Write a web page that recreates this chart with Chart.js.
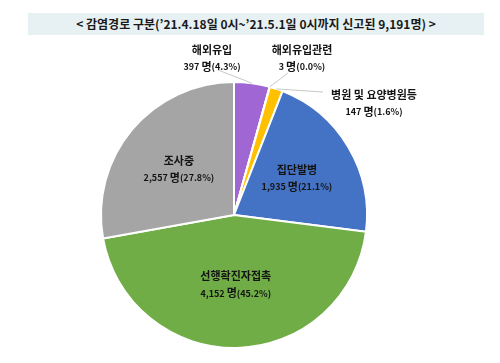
<!DOCTYPE html>
<html><head><meta charset="utf-8">
<script src="https://cdn.jsdelivr.net/npm/chart.js@4/dist/chart.umd.min.js"></script>
<style>
html,body{margin:0;padding:0;background:#fff;}
#wrap{position:relative;width:500px;height:363px;}
#title{position:absolute;left:28px;top:13px;width:456px;height:22px;background:#e7f1f3;
 font:bold 12px "Noto Sans CJK KR","Noto Sans",sans-serif;color:#1a1a1a;text-align:center;line-height:22px;white-space:nowrap;}
canvas{position:absolute;left:0;top:0;}
</style></head>
<body><div id="wrap"><canvas id="c" width="500" height="363"></canvas>
<div id="title">&lt; 감염경로 구분(’21.4.18일 0시~’21.5.1일 0시까지 신고된 9,191명) &gt;</div></div>
<script>
const categories = ['해외유입','해외유입관련','병원 및 요양병원등','집단발병','선행확진자접촉','조사중'];
const counts = [397, 3, 147, 1935, 4152, 2557];
const percents = ['4.3%','0.0%','1.6%','21.1%','45.2%','27.8%'];
const colors = ['#a066d3','#ed7d31','#ffc000','#4472c4','#70ad47','#a5a5a5'];

// label layout: inside labels use radial fraction; outside labels use offset from centre (px) and leader
const labelLayout = [
  {out:true, dx:-22, dy:-157, lead:[-16,-145]},
  {out:true, dx:68, dy:-157, lead:[54,-142]},
  {out:true, dx:140, dy:-112, lead:[89,-123]},
  {frac:0.55},
  {frac:0.52},
  {frac:0.54}
];

function fmt(n){return n.toLocaleString('en-US');}
const F = '"Noto Sans CJK KR","Noto Sans",sans-serif';

const labelPlugin = {
  id:'labels',
  afterDatasetsDraw(chart){
    const ctx = chart.ctx;
    const meta = chart.getDatasetMeta(0);
    ctx.save();
    meta.data.forEach((arc,i)=>{
      const L = labelLayout[i];
      const {x,y,startAngle,endAngle,outerRadius} = arc.getProps(['x','y','startAngle','endAngle','outerRadius'],true);
      const mid = (startAngle+endAngle)/2;
      let cx, cy;
      if (L.out){
        cx = x + L.dx; cy = y + L.dy;
        ctx.strokeStyle = '#c8c8c8'; ctx.lineWidth = 1;
        ctx.beginPath();
        ctx.moveTo(x + Math.cos(mid)*outerRadius, y + Math.sin(mid)*outerRadius);
        ctx.lineTo(x + L.lead[0], y + L.lead[1]);
        ctx.stroke();
      } else {
        cx = x + Math.cos(mid)*outerRadius*L.frac;
        cy = y + Math.sin(mid)*outerRadius*L.frac;
      }
      ctx.fillStyle = '#141414';
      ctx.textAlign = 'center'; ctx.textBaseline = 'middle';
      ctx.font = 'bold 11px ' + F;
      ctx.fillText(categories[i], cx, cy - 8);
      // value line with larger 명
      const parts = [[fmt(counts[i]) + ' ', 'bold 9px ' + F], ['명', 'bold 11px ' + F], ['(' + percents[i] + ')', 'bold 9px ' + F]];
      let w = 0;
      parts.forEach(p=>{ctx.font = p[1]; w += ctx.measureText(p[0]).width;});
      let px = cx - w/2;
      ctx.textAlign = 'left';
      parts.forEach(p=>{ctx.font = p[1]; ctx.fillText(p[0], px, cy + 9); px += ctx.measureText(p[0]).width;});
    });
    ctx.restore();
  }
};

new Chart(document.getElementById('c'), {
  type:'pie',
  data:{labels:categories, datasets:[{data:counts, backgroundColor:colors, borderColor:'#ffffff', borderWidth:2}]},
  options:{
    responsive:false, animation:false,
    layout:{padding:{left:100,right:132,top:81,bottom:14}},
    plugins:{legend:{display:false}, tooltip:{enabled:false}}
  },
  plugins:[labelPlugin]
});
</script></body></html>
